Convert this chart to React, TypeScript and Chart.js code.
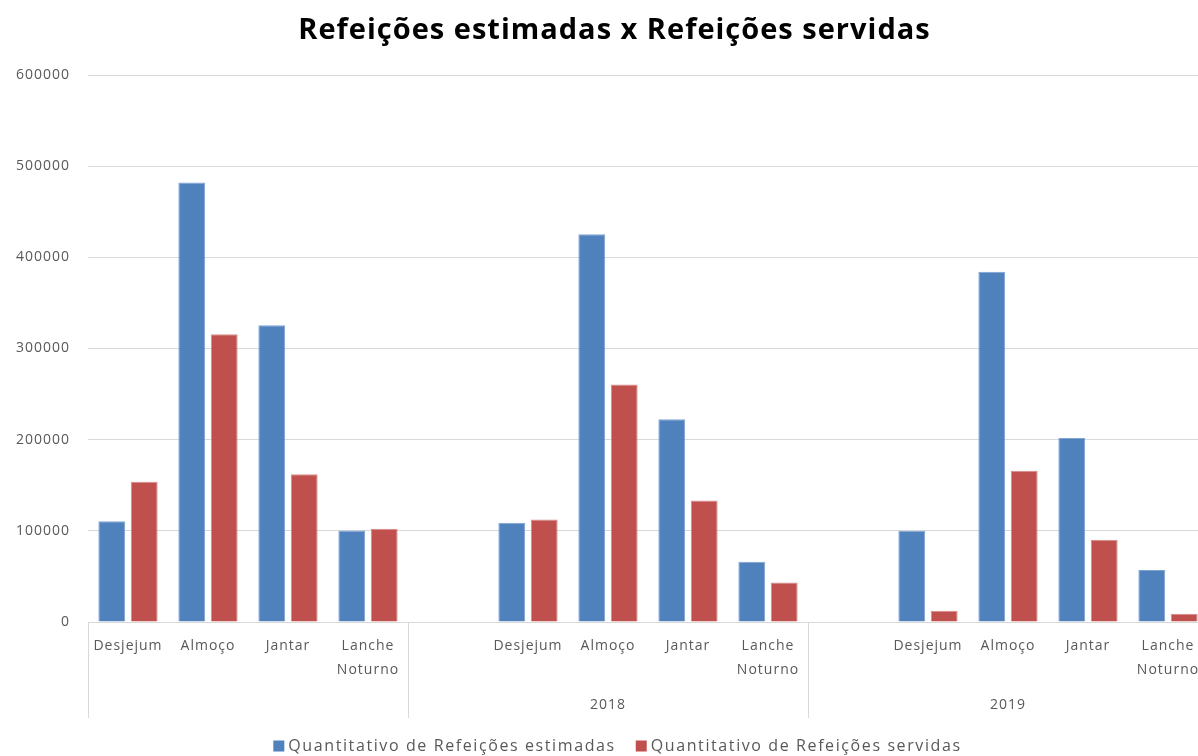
import React, { useEffect, useRef } from "react";
import { Chart, registerables } from "chart.js";

Chart.register(...registerables);

const titleText = "Refeições estimadas x Refeições servidas";
const categories = ["Desjejum", "Almoço", "Jantar", "Lanche Noturno"];
const years = ["", "2018", "2019"];
const estimadasGrupo1 = [110500, 482000, 325600, 100300];
const servidasGrupo1 = [153800, 315500, 162200, 102200];
const estimadas2018 = [109000, 425300, 222300, 66200];
const servidas2018 = [112400, 260400, 133300, 43200];
const estimadas2019 = [100000, 384200, 201800, 57100];
const servidas2019 = [12400, 165900, 90100, 9100];
const yTicks = [0, 100000, 200000, 300000, 400000, 500000, 600000];
const seriesNames = ["Quantitativo de Refeições estimadas", "Quantitativo de Refeições servidas"];
const seriesColors = ["#4F81BD", "#C0504D"];

const FONT = "'Open Sans', 'DejaVu Sans', sans-serif";
const TEXT = "#595959";
const GRID = "#d9d9d9";

function buildSeries(groups: number[][]) {
  const out: (number | null)[] = [];
  groups.forEach((g, i) => {
    if (i > 0) out.push(null);
    g.forEach((v) => out.push(v));
  });
  return out;
}

function buildLabels() {
  const out: (string | string[])[] = [];
  years.forEach((_, i) => {
    if (i > 0) out.push("");
    categories.forEach((c) => out.push(c.includes(" ") ? c.split(" ") : c));
  });
  return out;
}

const groupPlugin = {
  id: "groupPlugin",
  beforeDraw(chart: any) {
    (chart.ctx as any).letterSpacing = "1px";
  },
  afterDraw(chart: any) {
    const x = chart.scales.x;
    const ctx = chart.ctx;
    const step = x.getPixelForValue(1) - x.getPixelForValue(0);
    const x0 = x.getPixelForValue(0);
    const top = x.top;
    const bottom = top + 96;
    ctx.save();
    ctx.strokeStyle = GRID;
    ctx.lineWidth = 1;
    let start = 0;
    const bounds: number[] = [-0.5];
    years.forEach((_, i) => {
      start += categories.length + (i > 0 ? 1 : 0);
      bounds.push(start - 0.5);
    });
    bounds.forEach((b) => {
      const px = Math.round(x0 + b * step) + 0.5;
      ctx.beginPath();
      ctx.moveTo(px, top);
      ctx.lineTo(px, bottom);
      ctx.stroke();
    });
    ctx.fillStyle = TEXT;
    (ctx as any).letterSpacing = "1px";
    ctx.font = `14px ${FONT}`;
    ctx.textAlign = "center";
    ctx.textBaseline = "middle";
    years.forEach((y, i) => {
      const a = x0 + bounds[i] * step;
      const b = x0 + bounds[i + 1] * step;
      if (y) ctx.fillText(y, (a + b) / 2, top + 83);
    });

    // title
    ctx.fillStyle = "#000";
    ctx.font = `bold 29px ${FONT}`;
    ctx.fillText(titleText, chart.width / 2 - 3, 31);

    // legend
    (ctx as any).letterSpacing = "1.6px";
    ctx.font = `16px ${FONT}`;
    ctx.textAlign = "left";
    const box = 11;
    const gapBox = 4;
    const gapItem = 20;
    const widths = seriesNames.map((n) => ctx.measureText(n).width);
    const total = widths.reduce((s, w) => s + w + box + gapBox, 0) + gapItem * (seriesNames.length - 1);
    let lx = chart.width / 2 - total / 2;
    const ly = 746;
    seriesNames.forEach((n, i) => {
      ctx.fillStyle = seriesColors[i];
      ctx.fillRect(lx, ly - box / 2, box, box);
      ctx.fillStyle = TEXT;
      ctx.fillText(n, lx + box + gapBox, ly);
      lx += box + gapBox + widths[i] + gapItem;
    });
    ctx.restore();
    (ctx as any).letterSpacing = "0px";
  },
};

export default function App() {
  const ref = useRef<HTMLCanvasElement>(null);
  useEffect(() => {
    if (!ref.current) return;
    const chart = new Chart(ref.current, {
      type: "bar",
      data: {
        labels: buildLabels(),
        datasets: [
          {
            label: seriesNames[0],
            data: buildSeries([estimadasGrupo1, estimadas2018, estimadas2019]),
            backgroundColor: seriesColors[0],
            borderColor: "#7fa3d3",
            borderWidth: 1,
            categoryPercentage: 0.81,
            barPercentage: 0.83,
          },
          {
            label: seriesNames[1],
            data: buildSeries([servidasGrupo1, servidas2018, servidas2019]),
            backgroundColor: seriesColors[1],
            borderColor: "#d88a88",
            borderWidth: 1,
            categoryPercentage: 0.81,
            barPercentage: 0.83,
          },
        ],
      },
      options: {
        animation: false,
        responsive: true,
        maintainAspectRatio: false,
        layout: { padding: { left: 0, right: 27, top: 75, bottom: 34 } },
        plugins: {
          title: { display: false },
          legend: { display: false },
          tooltip: { enabled: false },
        },
        scales: {
          x: {
            grid: { display: false },
            border: { display: true, color: GRID },
            ticks: {
              color: TEXT,
              font: { family: FONT, size: 14, lineHeight: 1.7 },
              maxRotation: 0,
              autoSkip: false,
              padding: 4,
            },
            afterFit(scale: any) {
              scale.height = 100;
            },
          },
          y: {
            min: 0,
            max: 600000,
            afterBuildTicks(scale: any) {
              scale.ticks = yTicks.map((v) => ({ value: v }));
            },
            grid: { color: GRID, drawTicks: false, lineWidth: 1 },
            border: { display: false },
            ticks: {
              color: TEXT,
              font: { family: FONT, size: 14 },
              padding: 18,
              callback: (v: any) => String(v),
            },
            afterFit(scale: any) {
              scale.width = 88;
            },
          },
        },
      },
      plugins: [groupPlugin],
    });
    return () => chart.destroy();
  }, []);
  return (
    <div style={{ position: "absolute", left: 0, top: 0, width: 1198, height: 756, overflow: "hidden", background: "#fff" }}>
      <div style={{ position: "relative", width: 1235, height: 756 }}>
        <canvas ref={ref} />
      </div>
    </div>
  );
}
